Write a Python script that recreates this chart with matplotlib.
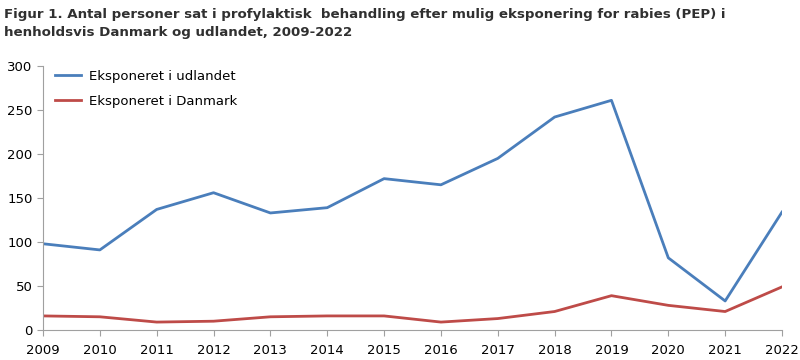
import matplotlib.pyplot as plt

# data
years = list(range(2009, 2023))
udlandet = [98, 91, 137, 156, 133, 139, 172, 165, 195, 242, 261, 82, 33, 134]
danmark = [16, 15, 9, 10, 15, 16, 16, 9, 13, 21, 39, 28, 21, 49]

title = ("Figur 1. Antal personer sat i profylaktisk  behandling efter mulig eksponering for rabies (PEP) i\n"
         "henholdsvis Danmark og udlandet, 2009-2022")

plt.rcParams['font.family'] = ['DejaVu Sans']

fig = plt.figure(figsize=(8, 3.6), dpi=100)
ax = fig.add_axes([43 / 800, 30 / 360, 739 / 800, 264 / 360])

ax.plot(years, udlandet, color="#4a7ebb", linewidth=2, label="Eksponeret i udlandet")
ax.plot(years, danmark, color="#be4b48", linewidth=2, label="Eksponeret i Danmark")

ax.set_xlim(2009, 2022)
ax.set_ylim(0, 300)
ax.set_xticks(years)
ax.set_yticks(range(0, 301, 50))

for s in ["top", "right"]:
    ax.spines[s].set_visible(False)
for s in ["left", "bottom"]:
    ax.spines[s].set_color("#a0a0a0")
ax.tick_params(axis="both", colors="#a0a0a0", labelcolor="black", labelsize=9.5, length=4)
ax.tick_params(axis="x", pad=6)

ax.legend(loc="upper left", bbox_to_anchor=(0.0, 1.03), frameon=False, fontsize=9.5,
          handlelength=2.0, handletextpad=0.55, labelspacing=0.9)

fig.text(0.005, 0.978, title, ha="left", va="top", fontsize=9.6, fontweight="bold",
         color="#303030", linespacing=1.55)

fig.savefig("out.png", dpi=100)
